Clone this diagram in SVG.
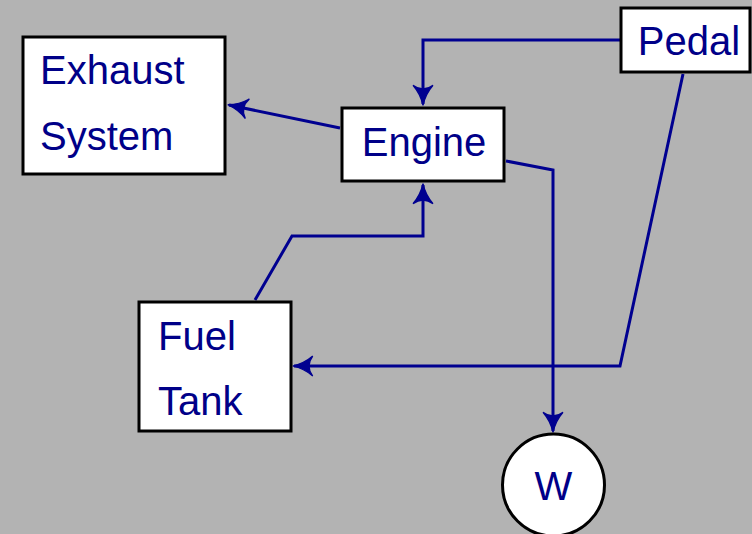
<svg xmlns="http://www.w3.org/2000/svg" width="752" height="534" viewBox="0 0 752 534">
<defs>
<style>
.box{fill:#fff;stroke:#000;stroke-width:3}
.lbl{font-family:"Liberation Sans","DejaVu Sans",sans-serif;font-size:40px;fill:#000088}
.mid{text-anchor:middle}
.conn{fill:none;stroke:#000090;stroke-width:3;stroke-linejoin:miter}
</style>
<marker id="arr" markerUnits="userSpaceOnUse" markerWidth="30" markerHeight="30" refX="0" refY="0" viewBox="-20 -12 24 24" orient="auto" overflow="visible">
<path d="M1,0 Q-8,-2 -15,-8 Q-9,0 -15,8 Q-8,2 1,0 Z" fill="#000090" stroke="#000090" stroke-width="1"/>
</marker>
</defs>
<rect width="752" height="534" fill="#b3b3b3"/>
<g id="connectors">
<path class="conn" d="M340,128 L229,105" marker-end="url(#arr)"/>
<path class="conn" d="M620,40 L423,40 L423,104" marker-end="url(#arr)"/>
<path class="conn" d="M683,74 L620,366 L294,366" marker-end="url(#arr)"/>
<path class="conn" d="M255,300 L292,236 L423,236 L423,185" marker-end="url(#arr)"/>
<path class="conn" d="M506,161 L553,170 L553,431" marker-end="url(#arr)"/>
</g>
<g id="exhaust">
<rect class="box" x="23" y="37" width="202" height="137"/>
<text class="lbl" x="40" y="84">Exhaust</text>
<text class="lbl" x="40" y="150">System</text>
</g>
<g id="engine">
<rect class="box" x="342" y="108" width="162" height="73"/>
<text class="lbl mid" x="424" y="156">Engine</text>
</g>
<g id="pedal">
<rect class="box" x="621" y="8" width="129" height="64"/>
<text class="lbl mid" x="689" y="55">Pedal</text>
</g>
<g id="fuel">
<rect class="box" x="139" y="302" width="152" height="129"/>
<text class="lbl" x="158" y="350">Fuel</text>
<text class="lbl" x="158" y="415">Tank</text>
</g>
<g id="w">
<circle class="box" cx="553.5" cy="485" r="51"/>
<text class="lbl mid" x="553.5" y="500">W</text>
</g>
</svg>
